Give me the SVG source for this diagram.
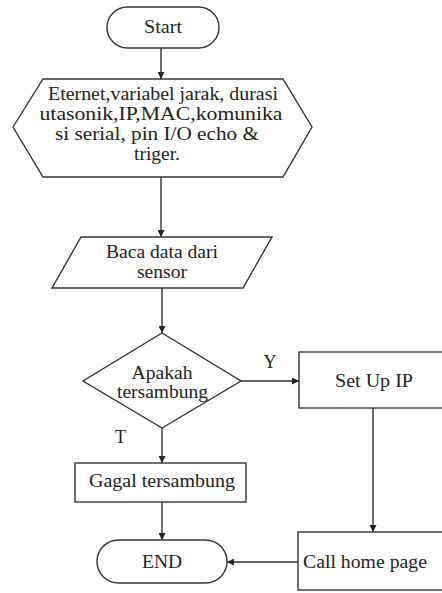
<svg xmlns="http://www.w3.org/2000/svg" width="442" height="593" viewBox="0 0 442 593">
<defs>
<style>
.s{fill:#fff;stroke:#333;stroke-width:1.4}
.t{font-size:18px;fill:#222;text-anchor:middle}
.c{fill:none;stroke:#333;stroke-width:1.4}
</style>
<marker id="ah" viewBox="0 0 10 10" refX="10" refY="5" markerWidth="7" markerHeight="7" markerUnits="userSpaceOnUse" orient="auto">
<path d="M0,0 L10,5 L0,10 z" fill="#222"/>
</marker>
</defs>
<rect width="442" height="593" fill="#fff"/>
<g font-family="'Liberation Serif', 'DejaVu Serif', 'Times New Roman', serif">
<g id="connectors">
<path class="c" d="M161,48 V79" marker-end="url(#ah)"/>
<path class="c" d="M161,177 V237" marker-end="url(#ah)"/>
<path class="c" d="M162,288 V333" marker-end="url(#ah)"/>
<path class="c" d="M241,381 H299" marker-end="url(#ah)"/>
<path class="c" d="M162,428 V463" marker-end="url(#ah)"/>
<path class="c" d="M373,408 V532" marker-end="url(#ah)"/>
<path class="c" d="M162,502 V540" marker-end="url(#ah)"/>
<path class="c" d="M298,562 H227" marker-end="url(#ah)"/>
<text class="t" x="270" y="368">Y</text>
<text class="t" x="120.5" y="443">T</text>
</g>
<g id="start">
<rect class="s" x="107" y="7" width="112" height="41" rx="20.5"/>
<text class="t" x="163" y="33" textLength="38" lengthAdjust="spacingAndGlyphs">Start</text>
</g>
<g id="init">
<polygon class="s" points="13,127 43,79 283,79 312,127 283,177 43,177"/>
<text class="t" x="163" y="100" textLength="230" lengthAdjust="spacingAndGlyphs">Eternet,variabel jarak, durasi</text>
<text class="t" x="161" y="120" textLength="243" lengthAdjust="spacingAndGlyphs">utasonik,IP,MAC,komunika</text>
<text class="t" x="157" y="140" textLength="204" lengthAdjust="spacingAndGlyphs">si serial, pin I/O echo &amp;</text>
<text class="t" x="157" y="160" textLength="46" lengthAdjust="spacingAndGlyphs">triger.</text>
</g>
<g id="read">
<polygon class="s" points="81,237 272,237 243,288 52,288"/>
<text class="t" x="162" y="258" textLength="112" lengthAdjust="spacingAndGlyphs">Baca data dari</text>
<text class="t" x="162" y="278" textLength="50" lengthAdjust="spacingAndGlyphs">sensor</text>
</g>
<g id="decision">
<polygon class="s" points="162,333 241,381 162,428 83,381"/>
<text class="t" x="162" y="379" textLength="61" lengthAdjust="spacingAndGlyphs">Apakah</text>
<text class="t" x="162.5" y="398" textLength="91" lengthAdjust="spacingAndGlyphs">tersambung</text>
</g>
<g id="setup">
<rect class="s" x="299" y="352" width="160" height="56"/>
<text class="t" x="374" y="387" textLength="78" lengthAdjust="spacingAndGlyphs">Set Up IP</text>
</g>
<g id="gagal">
<rect class="s" x="75" y="463" width="171" height="39"/>
<text class="t" x="162" y="487" textLength="146" lengthAdjust="spacingAndGlyphs">Gagal tersambung</text>
</g>
<g id="end">
<rect class="s" x="97" y="540" width="130" height="43" rx="21.5"/>
<text class="t" x="162" y="568" textLength="40" lengthAdjust="spacingAndGlyphs">END</text>
</g>
<g id="callhome">
<rect class="s" x="298" y="532" width="160" height="58"/>
<text class="t" x="365" y="568" textLength="124" lengthAdjust="spacingAndGlyphs">Call home page</text>
</g>
</g>
</svg>
